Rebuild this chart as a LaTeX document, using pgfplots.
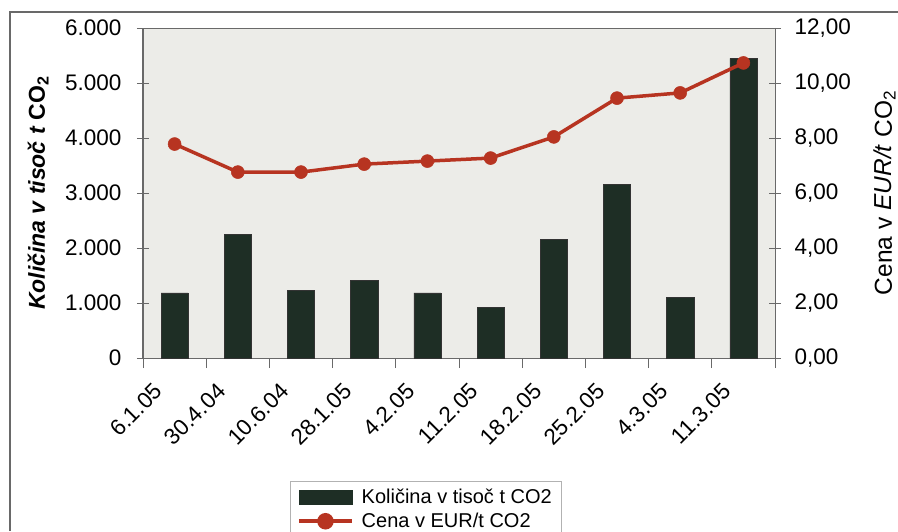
\documentclass[border=0pt]{standalone}
\usepackage{pgfplots}
\pgfplotsset{compat=1.18}
\usepackage{fontspec}
\setmainfont{Liberation Sans}

\definecolor{barcol}{RGB}{30,46,37}
\definecolor{linecol}{RGB}{183,52,33}
\definecolor{plotbg}{RGB}{236,236,232}
\definecolor{framecol}{RGB}{105,105,105}

\newcommand{\tickfont}{\fontsize{22.5}{27}\selectfont}
\newcommand{\legfont}{\fontsize{20}{24}\selectfont}

\pgfplotsset{
  base/.style={
    at={(143pt,173pt)}, anchor=south west,
    scale only axis, width=632pt, height=330pt,
    xmin=-0.5, xmax=9.5, ymin=0,
    axis line style={framecol, line width=1pt},
    tick style={framecol, line width=0.8pt},
    tick align=center, major tick length=12pt,
    tick label style={font=\tickfont},
    /pgf/number format/assume math mode=true,
  }
}

\begin{document}
\begin{tikzpicture}[x=1pt,y=1pt]
\path[use as bounding box] (0,0) rectangle (898,531);
\draw[framecol, line width=1.2pt] (10,0) -- (10,519) -- (898,519);

\begin{axis}[base,
  axis background/.style={fill=plotbg},
  ymax=6000, ytick={0,1000,...,6000}, scaled y ticks=false, ytick pos=left,
  /pgf/number format/1000 sep={.},
  y tick label style={xshift=-12pt},
  xtick={0,...,9}, xtick pos=bottom,
  xticklabels={6.1.05,30.4.04,10.6.04,28.1.05,4.2.05,11.2.05,18.2.05,25.2.05,4.3.05,11.3.05},
  major x tick style={draw=none},
  minor xtick={-0.5,0.5,...,9.5}, minor tick length=10pt,
  x tick label style={xshift=-22pt, yshift=-7pt, rotate=45, anchor=north east},
  ylabel={\textbf{\textit{Količina v tisoč t} CO\textsubscript{2}}},
  ylabel style={font=\fontsize{23}{27}\selectfont, at={(axis description cs:-0.166,0.5)}, anchor=center},
  ybar, bar width=0.43,
]
\addplot[fill=barcol, draw=black!80] coordinates {
  (0,1182) (1,2254) (2,1236) (3,1418) (4,1182)
  (5,927) (6,2163) (7,3163) (8,1109) (9,5450)
};
\end{axis}

\begin{axis}[base,
  hide x axis,
  ymax=12, ytick={0,2,...,12}, ytick pos=right,
  /pgf/number format/.cd, fixed, fixed zerofill, precision=2, use comma,
  /pgfplots/.cd,
  y tick label style={xshift=10pt},
  ylabel={Cena v \textit{EUR/t} CO\textsubscript{2}},
  ylabel style={font=\fontsize{24.5}{29}\selectfont, at={(axis description cs:1.174,0.5)}, anchor=center},
  legend style={at={(axis description cs:0.2326,-0.3727)}, anchor=north west,
    draw=gray!60, font=\legfont, legend cell align=left,
    inner xsep=7pt, inner ysep=6pt, row sep=4pt,
    /tikz/every odd column/.append style={column sep=6pt}},
]
\addlegendimage{legend image code/.code={\fill[barcol] (0pt,-7pt) rectangle (53pt,7pt);}}
\addplot[linecol, line width=3.5pt, mark=*, mark size=6.5pt,
  mark options={fill=linecol, draw=linecol, line width=0.5pt},
  legend image code/.code={\draw[linecol, line width=3.5pt] (0pt,0pt) -- (53pt,0pt);
    \fill[linecol] (26.5pt,0pt) circle (6.5pt);}]
coordinates {
  (0,7.78) (1,6.76) (2,6.76) (3,7.05) (4,7.16)
  (5,7.27) (6,8.04) (7,9.45) (8,9.64) (9,10.73)
};
\legend{Količina v tisoč t CO2, Cena v EUR/t CO2}
\end{axis}
\end{tikzpicture}
\end{document}
